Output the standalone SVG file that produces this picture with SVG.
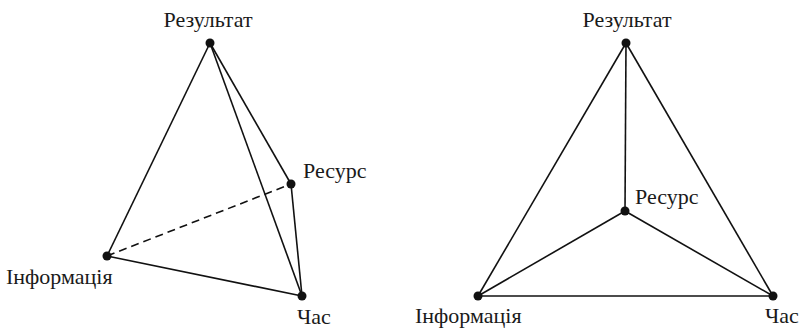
<svg xmlns="http://www.w3.org/2000/svg" width="812" height="330" viewBox="0 0 812 330">
<style>
text{font-family:'Liberation Serif','Times New Roman',serif;font-size:22px;fill:#1a1a1a}
.e{stroke:#111;stroke-width:1.6;fill:none}
.d{stroke-dasharray:8,5}
circle{fill:#111}
</style>
<rect width="812" height="330" fill="#fff"/>
<g id="connectors">
<line class="e" x1="210" y1="43" x2="107" y2="256"/>
<line class="e" x1="210" y1="43" x2="291" y2="184"/>
<line class="e" x1="210" y1="43" x2="302" y2="296"/>
<line class="e" x1="291" y1="184" x2="302" y2="296"/>
<line class="e" x1="107" y1="256" x2="302" y2="296"/>
<line class="e d" x1="107" y1="256" x2="291" y2="184"/>
<line class="e" x1="626" y1="43" x2="478" y2="296"/>
<line class="e" x1="626" y1="43" x2="773" y2="296"/>
<line class="e" x1="626" y1="43" x2="625" y2="211"/>
<line class="e" x1="625" y1="211" x2="478" y2="296"/>
<line class="e" x1="625" y1="211" x2="773" y2="296"/>
<line class="e" x1="478" y1="296" x2="773" y2="296"/>
</g>
<g id="l-result"><circle cx="210" cy="43" r="4.5"/><text x="208" y="27" text-anchor="middle">Результат</text></g>
<g id="l-resource"><circle cx="291" cy="184" r="4.5"/><text x="303" y="178">Ресурс</text></g>
<g id="l-info"><circle cx="107" cy="256" r="4.5"/><text x="6" y="284">Інформація</text></g>
<g id="l-time"><circle cx="302" cy="296" r="4.5"/><text x="297" y="324">Час</text></g>
<g id="r-result"><circle cx="626" cy="43" r="4.5"/><text x="627" y="27" text-anchor="middle">Результат</text></g>
<g id="r-resource"><circle cx="625" cy="211" r="4.5"/><text x="635" y="204">Ресурс</text></g>
<g id="r-info"><circle cx="478" cy="296" r="4.5"/><text x="415" y="323">Інформація</text></g>
<g id="r-time"><circle cx="773" cy="296" r="4.5"/><text x="765" y="323">Час</text></g>
</svg>
